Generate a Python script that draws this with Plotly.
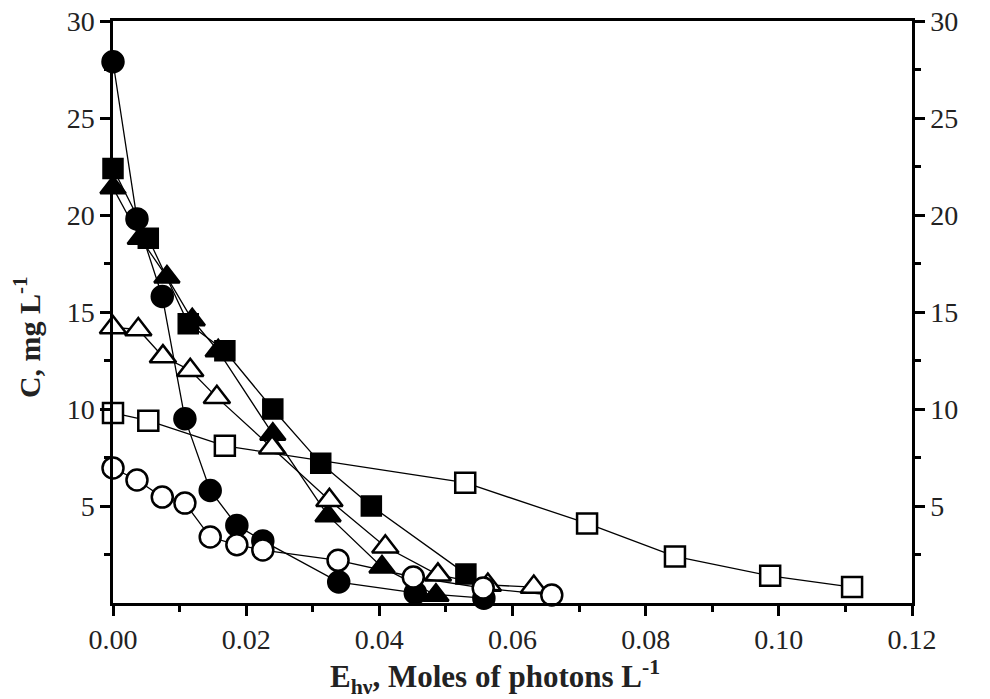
import plotly.graph_objects as go

# Energy (x) and concentration (y) for each series
x_fc = [0, 0.0036, 0.0074, 0.0108, 0.0146, 0.0186, 0.0225, 0.0339, 0.0454, 0.0557]
y_fc = [27.9, 19.8, 15.8, 9.5, 5.8, 4.0, 3.2, 1.08, 0.52, 0.25]

x_fs = [0, 0.0053, 0.0113, 0.0168, 0.0240, 0.0312, 0.0388, 0.0530]
y_fs = [22.4, 18.8, 14.4, 13.0, 10.0, 7.2, 5.0, 1.5]

x_ft = [0, 0.0041, 0.0081, 0.0119, 0.0158, 0.0240, 0.0323, 0.0404, 0.0485]
y_ft = [21.4, 18.8, 16.8, 14.6, 13.0, 8.7, 4.5, 1.85, 0.4]

x_os = [0, 0.0053, 0.0168, 0.0529, 0.0712, 0.0844, 0.0987, 0.1110]
y_os = [9.8, 9.4, 8.1, 6.2, 4.1, 2.4, 1.4, 0.82]

x_ot = [0, 0.0038, 0.0075, 0.0116, 0.0156, 0.0239, 0.0325, 0.0409, 0.0488, 0.0563, 0.0632]
y_ot = [14.2, 14.1, 12.7, 12.0, 10.6, 8.0, 5.3, 2.9, 1.45, 0.93, 0.82]

x_oc = [0, 0.0036, 0.0074, 0.0108, 0.0146, 0.0186, 0.0225, 0.0338, 0.0451, 0.0556, 0.0659]
y_oc = [6.96, 6.34, 5.46, 5.15, 3.4, 3.0, 2.73, 2.2, 1.34, 0.77, 0.41]

x_ticks = [0, 0.02, 0.04, 0.06, 0.08, 0.10, 0.12]
y_ticks = [5, 10, 15, 20, 25, 30]

x_title = "<b>E<sub>hν</sub>, Moles of photons L<sup>-1</sup></b>"
y_title = "<b>C, mg L<sup>-1</sup></b>"

FONT = "Liberation Serif"

fig = go.Figure()

def add(x, y, symbol, size, fill):
    fig.add_trace(go.Scatter(
        x=x, y=y, mode="lines+markers",
        line=dict(color="black", width=1.3),
        marker=dict(symbol=symbol, size=size, color=fill,
                    line=dict(color="black", width=2.5)),
        showlegend=False, cliponaxis=False,
    ))

add(x_fc, y_fc, "circle", 21, "black")
add(x_fs, y_fs, "square", 19, "black")
add(x_ft, y_ft, "triangle-up", 22, "black")
add(x_os, y_os, "square", 20, "white")
add(x_ot, y_ot, "triangle-up", 23, "white")
add(x_oc, y_oc, "circle", 21, "white")

# carrier trace so the right-hand axis is drawn
fig.add_trace(go.Scatter(x=x_os, y=y_os, yaxis="y2", mode="none",
                         showlegend=False, hoverinfo="skip"))

axis_common = dict(
    showline=True, linecolor="black", linewidth=2.5,
    ticks="outside", tickcolor="black", tickwidth=2.5, ticklen=10,
    showgrid=False, zeroline=False, automargin=False,
    ticklabeloverflow="allow",
    tickfont=dict(family=FONT, size=28, color="#222"),
)
minor_y = dict(tickvals=[2.5, 7.5, 12.5, 17.5, 22.5, 27.5],
               ticks="outside", ticklen=6, tickwidth=2.5, tickcolor="black")

fig.update_layout(
    width=982, height=691,
    margin=dict(l=105, r=78, t=13, b=96),
    paper_bgcolor="white", plot_bgcolor="white",
    xaxis=dict(
        range=[0, 0.12], tickmode="array", tickvals=x_ticks,
        tickformat=".2f", mirror=True,
        minor=dict(tickvals=[0.01, 0.03, 0.05, 0.07, 0.09, 0.11],
                   ticks="outside", ticklen=6, tickwidth=2.5, tickcolor="black"),
        **axis_common,
    ),
    yaxis=dict(
        range=[0, 30], tickmode="array", tickvals=y_ticks,
        minor=minor_y,
        **axis_common,
    ),
    yaxis2=dict(
        range=[0, 30], tickmode="array", tickvals=y_ticks,
        overlaying="y", side="right", anchor="x",
        minor=minor_y,
        **axis_common,
    ),
    annotations=[
        dict(text=x_title, xref="paper", yref="paper", x=0.478, y=-0.127,
             xanchor="center", yanchor="middle", showarrow=False,
             font=dict(family=FONT, size=31, color="#222")),
        dict(text=y_title, xref="paper", yref="paper", x=-0.1076, y=0.457,
             xanchor="center", yanchor="middle", textangle=-90, showarrow=False,
             font=dict(family=FONT, size=30, color="#222")),
    ],
)

fig.write_html("out.html")
